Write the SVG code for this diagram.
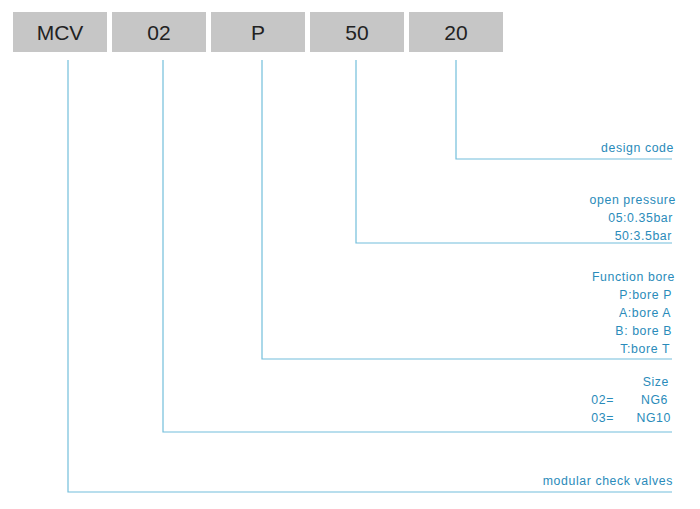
<svg xmlns="http://www.w3.org/2000/svg" width="700" height="509" viewBox="0 0 700 509">
<style>
.box{fill:#c6c6c6}
.bt{font-family:"Liberation Sans",Arial,sans-serif;font-size:21px;fill:#222;text-anchor:middle}
.ln{stroke:#72bedb;stroke-width:1.2;fill:none}
.lb{font-family:"Liberation Sans",Arial,sans-serif;font-size:12.3px;fill:#2a8bba;text-anchor:end;letter-spacing:0.6px}
</style>
<rect width="700" height="509" fill="#fff"/>
<g id="node-mcv"><rect class="box" x="13" y="12" width="94" height="40"/><text class="bt" x="60" y="40">MCV</text></g>
<g id="node-02"><rect class="box" x="112" y="12" width="94" height="40"/><text class="bt" x="159" y="40">02</text></g>
<g id="node-p"><rect class="box" x="211" y="12" width="94" height="40"/><text class="bt" x="258" y="40">P</text></g>
<g id="node-50"><rect class="box" x="310" y="12" width="94" height="40"/><text class="bt" x="357" y="40">50</text></g>
<g id="node-20"><rect class="box" x="409" y="12" width="94" height="40"/><text class="bt" x="456" y="40">20</text></g>
<g id="connectors">
<polyline class="ln" points="456,60 456,159 672,159"/>
<polyline class="ln" points="356,60 356,243 672,243"/>
<polyline class="ln" points="262,60 262,359 672,359"/>
<polyline class="ln" points="163,60 163,432 672,432"/>
<polyline class="ln" points="68,60 68,492 672,492"/>
</g>
<g id="label-design">
<text class="lb" x="674" y="152">design code</text>
</g>
<g id="label-pressure">
<text class="lb" x="676" y="204">open pressure</text>
<text class="lb" x="673" y="222">05:0.35bar</text>
<text class="lb" x="672" y="240">50:3.5bar</text>
</g>
<g id="label-bore">
<text class="lb" x="675" y="281">Function bore</text>
<text class="lb" x="672" y="299">P:bore P</text>
<text class="lb" x="671" y="317">A:bore A</text>
<text class="lb" x="672" y="335">B: bore B</text>
<text class="lb" x="670" y="353">T:bore T</text>
</g>
<g id="label-size">
<text class="lb" x="669" y="386">Size</text>
<text class="lb" x="614" y="404">02=</text><text class="lb" x="668" y="404">NG6</text>
<text class="lb" x="614" y="422">03=</text><text class="lb" x="671" y="422">NG10</text>
</g>
<g id="label-mcv">
<text class="lb" x="673" y="485">modular check valves</text>
</g>
</svg>
